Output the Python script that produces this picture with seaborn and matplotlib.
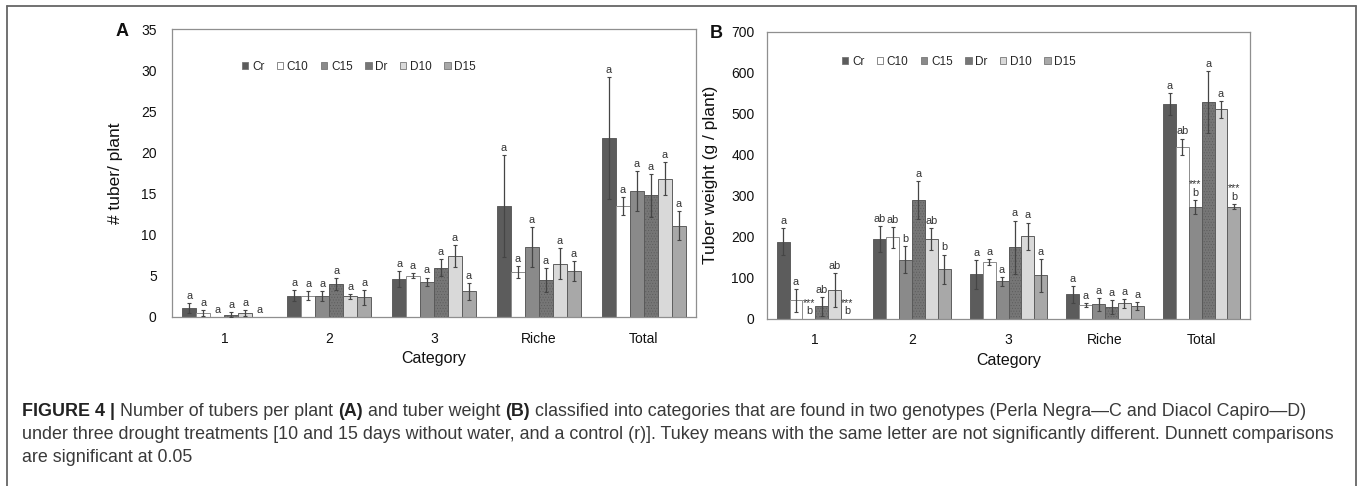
import numpy as np
import pandas as pd
import matplotlib
matplotlib.use("Agg")
import matplotlib.pyplot as plt
import seaborn as sns
from matplotlib.patches import Patch
from matplotlib.lines import Line2D
from matplotlib import font_manager

# ---------------- data ----------------
categories = ["1", "2", "3", "Riche", "Total"]
treatments = ["Cr", "C10", "C15", "Dr", "D10", "D15"]

# Panel A: number of tubers per plant
tubers_Cr = [1.1, 2.6, 4.6, 13.5, 21.8]
tubers_C10 = [0.5, 2.6, 5.0, 5.5, 13.5]
tubers_C15 = [0.0, 2.5, 4.3, 8.5, 15.3]
tubers_Dr = [0.3, 4.0, 6.0, 4.5, 14.8]
tubers_D10 = [0.5, 2.5, 7.4, 6.5, 16.8]
tubers_D15 = [0.0, 2.4, 3.1, 5.6, 11.1]

tubers_err_Cr = [0.65, 0.7, 1.0, 6.2, 7.4]
tubers_err_C10 = [0.4, 0.5, 0.3, 0.7, 1.1]
tubers_err_C15 = [0.0, 0.6, 0.5, 2.4, 2.4]
tubers_err_Dr = [0.3, 0.7, 1.0, 1.5, 2.6]
tubers_err_D10 = [0.4, 0.3, 1.3, 1.9, 2.0]
tubers_err_D15 = [0.0, 0.9, 1.0, 1.2, 1.75]

tubers_letters = {t: ["a"] * 5 for t in treatments}

# Panel B: tuber weight (g / plant)
weight_Cr = [187, 194, 108, 59, 524]
weight_C10 = [44, 198, 138, 32, 419]
weight_C15 = [0, 143, 91, 35, 273]
weight_Dr = [30, 289, 174, 28, 528]
weight_D10 = [70, 193, 201, 37, 510]
weight_D15 = [0, 120, 105, 30, 273]

weight_err_Cr = [33, 31, 35, 21, 27]
weight_err_C10 = [28, 25, 8, 5, 20]
weight_err_C15 = [0, 33, 11, 16, 17]
weight_err_Dr = [23, 47, 65, 17, 75]
weight_err_D10 = [41, 27, 33, 11, 20]
weight_err_D15 = [0, 36, 40, 10, 7]

weight_letters_Cr = ["a", "ab", "a", "a", "a"]
weight_letters_C10 = ["a", "ab", "a", "a", "ab"]
weight_letters_C15 = ["***\nb", "b", "a", "a", "***\nb"]
weight_letters_Dr = ["ab", "a", "a", "a", "a"]
weight_letters_D10 = ["ab", "ab", "a", "a", "a"]
weight_letters_D15 = ["***\nb", "b", "a", "a", "***\nb"]

legend_labels = treatments
colors = {"Cr": "#5c5c5c", "C10": "#ffffff", "C15": "#8a8a8a",
          "Dr": "#767676", "D10": "#d9d9d9", "D15": "#a8a8a8"}

# ---------------- build tables ----------------
def build(vals, errs, letters):
    rows = []
    for t in treatments:
        for i, c in enumerate(categories):
            rows.append({"cat": c, "trt": t, "val": vals[t][i],
                         "err": errs[t][i], "lab": letters[t][i]})
    return pd.DataFrame(rows)

dfA = build(
    {"Cr": tubers_Cr, "C10": tubers_C10, "C15": tubers_C15, "Dr": tubers_Dr,
     "D10": tubers_D10, "D15": tubers_D15},
    {"Cr": tubers_err_Cr, "C10": tubers_err_C10, "C15": tubers_err_C15,
     "Dr": tubers_err_Dr, "D10": tubers_err_D10, "D15": tubers_err_D15},
    tubers_letters)
dfB = build(
    {"Cr": weight_Cr, "C10": weight_C10, "C15": weight_C15, "Dr": weight_Dr,
     "D10": weight_D10, "D15": weight_D15},
    {"Cr": weight_err_Cr, "C10": weight_err_C10, "C15": weight_err_C15,
     "Dr": weight_err_Dr, "D10": weight_err_D10, "D15": weight_err_D15},
    {"Cr": weight_letters_Cr, "C10": weight_letters_C10, "C15": weight_letters_C15,
     "Dr": weight_letters_Dr, "D10": weight_letters_D10, "D15": weight_letters_D15})

# ---------------- style ----------------
sns.set_theme(style="white")
avail = {f.name for f in font_manager.fontManager.ttflist}
base_font = "Liberation Sans" if "Liberation Sans" in avail else "DejaVu Sans"
plt.rcParams["font.family"] = [base_font, "DejaVu Sans"]
plt.rcParams["hatch.linewidth"] = 0.35

W, H = 1358, 486
fig = plt.figure(figsize=(W / 100, H / 100), dpi=100)
fig.patch.set_facecolor("white")


def px_axes(left, top, right, bottom):
    return fig.add_axes([left / W, 1 - bottom / H, (right - left) / W, (bottom - top) / H])


def draw_panel(ax, df, ymax, ystep, ylabel, label_off):
    sns.barplot(data=df, x="cat", y="val", hue="trt", order=categories,
                hue_order=treatments, palette=colors, errorbar=None,
                legend=False, width=0.8, edgecolor="#5e5e5e", linewidth=0.7,
                ax=ax)
    for ti, (t, cont) in enumerate(zip(treatments, ax.containers)):
        sub = df[df.trt == t].set_index("cat").loc[categories]
        xs, ys, es = [], [], []
        for j, p in enumerate(cont.patches):
            if t == "C10":
                p.set_edgecolor("#8c8c8c")
            if t == "Dr":
                p.set_hatch("......")
                p.set_edgecolor("#5a5a5a")
            x = p.get_x() + p.get_width() / 2
            v = sub["val"].iloc[j]
            e = sub["err"].iloc[j]
            if e > 0:
                xs.append(x); ys.append(v); es.append(e)
            ax.annotate(sub["lab"].iloc[j], (x, v + e), xytext=(0, label_off),
                        textcoords="offset points", ha="center", va="bottom",
                        fontsize=7.8, color="#333333", linespacing=0.85)
        ax.errorbar(xs, ys, yerr=es, fmt="none", ecolor="#454545",
                    elinewidth=0.9, capsize=1.6, capthick=0.8, zorder=5)
    ax.set_xlim(-0.5, 4.5)
    ax.set_ylim(0, ymax)
    ax.set_yticks(np.arange(0, ymax + 1e-9, ystep))
    ax.set_xlabel("Category", fontsize=11.5, color="#111111", labelpad=4)
    ax.set_ylabel(ylabel, fontsize=12.5, color="#111111")
    ax.tick_params(axis="both", length=0, labelsize=10, colors="#111111")
    ax.tick_params(axis="y", pad=11)
    ax.tick_params(axis="x", pad=10.5)
    for s in ax.spines.values():
        s.set_visible(True)
        s.set_color("#8f8f8f")
        s.set_linewidth(0.9)
    ax.set_facecolor("white")


axA = px_axes(172, 29, 696, 317)
draw_panel(axA, dfA, 35, 5, "# tuber/ plant", 1.5)
axA.yaxis.set_label_coords(-0.093, 0.5)

axB = px_axes(767, 31.5, 1250, 318.5)
draw_panel(axB, dfB, 700, 100, "Tuber weight (g / plant)", 1.5)
axB.yaxis.set_label_coords(-0.101, 0.5)
axB.tick_params(axis="y", pad=9)

# panel letters
fig.text(122 / W, 1 - 31 / H, "A", fontsize=13, fontweight="bold", ha="center", va="center", color="#111111")
fig.text(716 / W, 1 - 33 / H, "B", fontsize=13, fontweight="bold", ha="center", va="center", color="#111111")

# legends
handles = []
for t in treatments:
    h = Patch(facecolor=colors[t], edgecolor="#777777", linewidth=0.6,
              hatch="......" if t == "Dr" else None, label=t)
    handles.append(h)
for x0, y0 in [(242, 66.5), (842, 62)]:
    fig.legend(handles=handles, labels=legend_labels, ncol=6, loc="center left",
               bbox_to_anchor=(x0 / W, 1 - y0 / H), frameon=False, fontsize=8.5,
               handlelength=0.55, handleheight=0.55, handletextpad=0.3,
               columnspacing=1.05, borderpad=0, borderaxespad=0)

# outer frame
fc = "#666666"
fig.add_artist(Line2D([7 / W, 1356 / W], [1 - 6 / H, 1 - 6 / H], color=fc, lw=1.3, transform=fig.transFigure))
fig.add_artist(Line2D([7 / W, 7 / W], [1 - 6 / H, -0.05], color=fc, lw=1.3, transform=fig.transFigure))
fig.add_artist(Line2D([1356 / W, 1356 / W], [1 - 6 / H, -0.05], color=fc, lw=1.3, transform=fig.transFigure))

# caption
line1 = [("FIGURE 4 | ", True), ("Number of tubers per plant ", False), ("(A)", True),
         (" and tuber weight ", False), ("(B)", True),
         (" classified into categories that are found in two genotypes (Perla Negra\u2014C and Diacol Capiro\u2014D)", False)]
line2 = [("under three drought treatments [10 and 15 days without water, and a control (r)]. Tukey means with the same letter are not significantly different. Dunnett comparisons", False)]
line3 = [("are significant at 0.05", False)]

renderer = fig.canvas.get_renderer()
tmp = fig.text(0, 0, line2[0][0], fontsize=10)
w10 = tmp.get_window_extent(renderer=renderer).width
tmp.remove()
cap_size = 10 * (1320 / w10)


def draw_line(segs, x0, ybase):
    x = x0
    for txt, bold in segs:
        t = fig.text(x / W, 1 - ybase / H, txt, fontsize=cap_size,
                     fontweight="bold" if bold else "normal",
                     color="#222222" if bold else "#3a3a3a",
                     ha="left", va="baseline")
        x += t.get_window_extent(renderer=renderer).width


draw_line(line1, 22, 416)
draw_line(line2, 22, 439)
draw_line(line3, 22, 462)

fig.savefig("out.png", dpi=100)
